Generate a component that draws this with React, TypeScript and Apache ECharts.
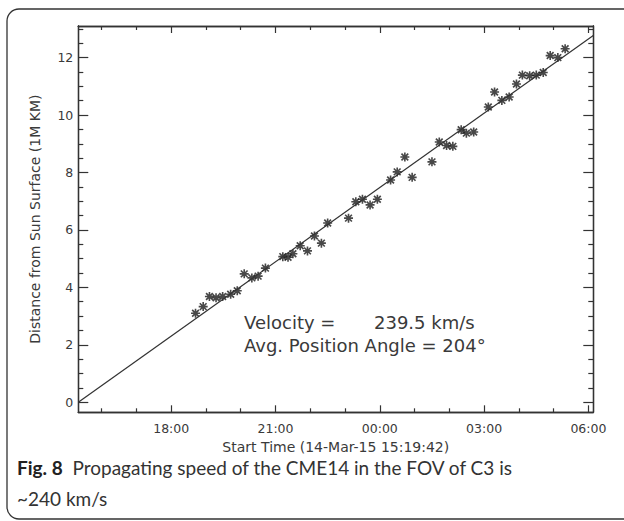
import React, { useEffect, useRef } from "react";
import * as echarts from "echarts";

// Hours counted from 00:00 on 14-Mar-15 (values > 24 are on 15-Mar)
const timeHours = [
  18.70, 18.92, 19.10, 19.29, 19.48, 19.71, 19.90, 20.10, 20.32, 20.50,
  20.71, 21.21, 21.36, 21.50, 21.71, 21.92, 22.12, 22.32, 22.50, 23.10,
  23.31, 23.50, 23.72, 23.93, 24.31, 24.50, 24.72, 24.93, 25.50, 25.71,
  25.92, 26.10, 26.34, 26.49, 26.70, 27.12, 27.30, 27.51, 27.72, 27.93,
  28.10, 28.31, 28.50, 28.70, 28.90, 29.12, 29.33,
];
const distances = [
  3.10, 3.33, 3.68, 3.64, 3.68, 3.76, 3.88, 4.47, 4.33, 4.39,
  4.67, 5.07, 5.05, 5.17, 5.45, 5.27, 5.79, 5.54, 6.24, 6.41,
  6.98, 7.07, 6.87, 7.07, 7.74, 8.02, 8.54, 7.83, 8.37, 9.06,
  8.94, 8.91, 9.49, 9.37, 9.41, 10.28, 10.80, 10.51, 10.63, 11.08,
  11.39, 11.37, 11.39, 11.48, 12.07, 12.00, 12.31,
];
const fitX = [15.3283, 30.14];
const fitY = [0, 12.77];

const xMin = 15.3283;
const xMax = 30.14;
const yMin = -0.35;
const yMax = 13.1;
const xMajorTicks = [18, 21, 24, 27, 30];
const xMinorTicks = [16, 17, 19, 20, 22, 23, 25, 26, 28, 29];
const yMajorTicks = [0, 2, 4, 6, 8, 10, 12];
const yMinorTicks = [0.5, 1, 1.5, 2.5, 3, 3.5, 4.5, 5, 5.5, 6.5, 7, 7.5, 8.5, 9, 9.5, 10.5, 11, 11.5, 12.5, 13];

const xAxisTitle = "Start Time (14-Mar-15 15:19:42)";
const yAxisTitle = "Distance from Sun Surface (1M KM)";
const velocityLabel = "Velocity =";
const velocityValue = "239.5 km/s";
const angleLabel = "Avg. Position Angle = 204°";
const captionBold = "Fig. 8";
const captionLine1 = "Propagating speed of the CME14 in the FOV of C3 is";
const captionLine2 = "~240 km/s";

const AX = "#333";
const TXT = "#3a3a3a";
const PLOT_FONT = "DejaVu Sans";

const ASTERISK =
  "path://M4.1 0H5.9V10H4.1Z M0 4.1H10V5.9H0Z M1.9 0.6L9.4 8.1L8.1 9.4L0.6 1.9Z M9.4 1.9L1.9 9.4L0.6 8.1L8.1 0.6Z";

function fmtHour(v: number) {
  const h = ((Math.round(v) % 24) + 24) % 24;
  return String(h).padStart(2, "0") + ":00";
}

function xAx(position: string, ticks: number[], len: number, labels: boolean, name?: string) {
  return {
    type: "value",
    position,
    min: xMin,
    max: xMax,
    name: name || "",
    nameLocation: "middle",
    nameGap: 28,
    nameTextStyle: { color: TXT, fontSize: 14, fontFamily: PLOT_FONT },
    axisLine: { show: true, onZero: false, lineStyle: { color: AX, width: 1.3 } },
    axisTick: { show: true, inside: true, length: len, customValues: ticks, lineStyle: { color: AX, width: 1.2 } },
    axisLabel: labels
      ? { show: true, customValues: ticks, formatter: fmtHour, color: TXT, fontSize: 12.5, fontFamily: PLOT_FONT, margin: 10 }
      : { show: false },
    splitLine: { show: false },
  };
}

function yAx(position: string, ticks: number[], len: number, labels: boolean, name?: string) {
  return {
    type: "value",
    position,
    min: yMin,
    max: yMax,
    name: name || "",
    nameLocation: "middle",
    nameGap: 36,
    nameRotate: 90,
    nameTextStyle: { color: TXT, fontSize: 14, fontFamily: PLOT_FONT },
    axisLine: { show: true, onZero: false, lineStyle: { color: AX, width: 1.3 } },
    axisTick: { show: true, inside: true, length: len, customValues: ticks, lineStyle: { color: AX, width: 1.2 } },
    axisLabel: labels
      ? { show: true, customValues: ticks, color: TXT, fontSize: 12.5, fontFamily: PLOT_FONT, margin: 5 }
      : { show: false },
    splitLine: { show: false },
  };
}

export default function App() {
  const ref = useRef<HTMLDivElement>(null);
  useEffect(() => {
    if (!ref.current) return;
    const chart = echarts.init(ref.current, undefined, { renderer: "svg" });
    const pts = timeHours.map((t, i) => [t, distances[i]]);
    const fit = fitX.map((t, i) => [t, fitY[i]]);
    chart.setOption({
      animation: false,
      backgroundColor: "#fff",
      grid: { left: 78.3, top: 26, right: 30.7, bottom: 108.7, containLabel: false },
      xAxis: [
        xAx("bottom", xMajorTicks, 7, true, xAxisTitle),
        xAx("bottom", xMinorTicks, 4, false),
        xAx("top", xMajorTicks, 7, false),
        xAx("top", xMinorTicks, 4, false),
      ],
      yAxis: [
        yAx("left", yMajorTicks, 10, true, yAxisTitle),
        yAx("left", yMinorTicks, 5, false),
        yAx("right", yMajorTicks, 10, false),
        yAx("right", yMinorTicks, 5, false),
      ],
      series: [
        {
          type: "line",
          data: fit,
          showSymbol: false,
          symbol: "none",
          lineStyle: { color: "#333", width: 1.2 },
          xAxisIndex: 0,
          yAxisIndex: 0,
          silent: true,
        },
        {
          type: "scatter",
          data: pts,
          symbol: ASTERISK,
          symbolSize: 9,
          itemStyle: { color: "#1a1a1a" },
          xAxisIndex: 0,
          yAxisIndex: 0,
        },
      ],
      graphic: [
        {
          type: "rect",
          shape: { x: 7, y: 9, width: 640, height: 510, r: 12 },
          style: { fill: "none", stroke: "#333", lineWidth: 1.3 },
          silent: true,
          z: -10,
        },
        {
          type: "text",
          x: 244,
          y: 322,
          style: { text: velocityLabel, fill: TXT, font: `18px "${PLOT_FONT}"`, verticalAlign: "middle" },
        },
        {
          type: "text",
          x: 374,
          y: 322,
          style: { text: velocityValue, fill: TXT, font: `18px "${PLOT_FONT}"`, verticalAlign: "middle" },
        },
        {
          type: "text",
          x: 244,
          y: 345,
          style: { text: angleLabel, fill: TXT, font: `18px "${PLOT_FONT}"`, verticalAlign: "middle" },
        },
        {
          type: "text",
          x: 17,
          y: 467,
          style: {
            text: `{b|${captionBold}}{r|  ${captionLine1}}`,
            verticalAlign: "middle",
            rich: {
              b: { fontFamily: "Lato", fontWeight: "bold", fontSize: 19, fill: "#222" },
              r: { fontFamily: "Lato", fontSize: 19, fill: "#333" },
            },
          },
        },
        {
          type: "text",
          x: 17,
          y: 498,
          style: { text: captionLine2, fill: "#333", font: `19px Lato`, verticalAlign: "middle" },
        },
      ],
    });
    return () => chart.dispose();
  }, []);
  return (
    <div
      ref={ref}
      style={{ position: "fixed", left: 0, top: 0, width: 624, height: 521, background: "#fff" }}
    />
  );
}
